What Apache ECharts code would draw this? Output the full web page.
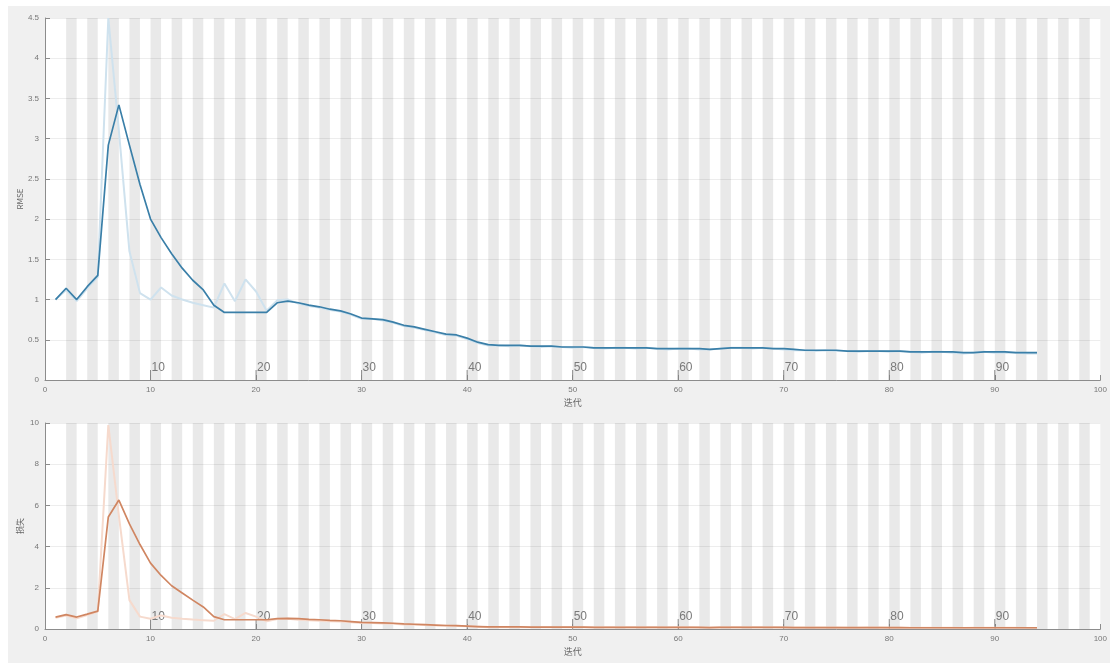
<!DOCTYPE html>
<html>
<head>
<meta charset="utf-8">
<script src="https://cdn.jsdelivr.net/npm/echarts@6/dist/echarts.min.js"></script>
<style>html,body{margin:0;padding:0;background:#fff;}#c{width:1110px;height:663px;}</style>
</head>
<body>
<div id="c"></div>
<script>
// ---- data ----
const iterations = Array.from({length: 94}, (_, i) => i + 1);
const rmseSmooth = [
  1.00,1.14,1.00,1.16,1.30,2.92,3.42,2.92,2.43,2.00,
  1.77,1.57,1.39,1.24,1.12,0.93,0.84,0.84,0.84,0.84,
  0.84,0.96,0.98,0.96,0.93,0.91,0.88,0.86,0.82,0.77,
  0.76,0.75,0.72,0.68,0.66,0.63,0.60,0.57,0.56,0.52,
  0.47,0.44,0.43,0.43,0.43,0.42,0.42,0.42,0.41,0.41,
  0.41,0.40,0.40,0.40,0.40,0.40,0.40,0.39,0.39,0.39,
  0.39,0.39,0.38,0.39,0.40,0.40,0.40,0.40,0.39,0.39,
  0.38,0.37,0.37,0.37,0.37,0.36,0.36,0.36,0.36,0.36,
  0.36,0.35,0.35,0.35,0.35,0.35,0.34,0.34,0.35,0.35,
  0.35,0.34,0.34,0.34];
const rmseRaw = [
  1.00,1.12,0.98,1.14,1.28,4.50,3.10,1.60,1.08,1.00,
  1.15,1.05,1.00,0.96,0.93,0.90,1.20,0.98,1.25,1.10,
  0.86,0.99,1.00,0.95,0.92,0.90,0.87,0.85,0.81,0.76,
  0.76,0.74,0.71,0.67,0.65,0.62,0.59,0.56,0.55,0.51,
  0.46,0.43,0.43,0.42,0.43,0.42,0.41,0.42,0.41,0.40,
  0.41,0.40,0.39,0.40,0.40,0.39,0.40,0.39,0.38,0.39,
  0.39,0.38,0.38,0.39,0.40,0.40,0.39,0.40,0.39,0.38,
  0.37,0.37,0.36,0.37,0.36,0.36,0.35,0.36,0.36,0.35,
  0.36,0.35,0.34,0.35,0.35,0.34,0.33,0.34,0.35,0.34,
  0.34,0.34,0.33,0.33];
const lossSmooth = [
  0.58,0.70,0.58,0.72,0.87,5.44,6.26,5.10,4.10,3.20,
  2.60,2.10,1.75,1.40,1.07,0.60,0.45,0.45,0.45,0.45,
  0.45,0.50,0.52,0.50,0.47,0.45,0.42,0.40,0.36,0.32,
  0.31,0.30,0.28,0.25,0.23,0.21,0.19,0.17,0.16,0.14,
  0.12,0.10,0.10,0.10,0.10,0.09,0.09,0.09,0.09,0.09,
  0.09,0.08,0.08,0.08,0.08,0.08,0.08,0.08,0.08,0.08,
  0.08,0.08,0.07,0.08,0.08,0.08,0.08,0.08,0.08,0.08,
  0.07,0.07,0.07,0.07,0.07,0.07,0.07,0.07,0.07,0.07,
  0.07,0.06,0.06,0.06,0.06,0.06,0.06,0.06,0.06,0.06,
  0.06,0.06,0.06,0.06];
const lossRaw = [
  0.55,0.65,0.52,0.68,0.85,9.90,5.50,1.40,0.60,0.50,
  0.66,0.55,0.50,0.46,0.43,0.40,0.72,0.48,0.78,0.60,
  0.37,0.49,0.50,0.45,0.42,0.40,0.38,0.36,0.33,0.29,
  0.29,0.27,0.25,0.22,0.21,0.19,0.17,0.16,0.15,0.13,
  0.11,0.09,0.09,0.09,0.09,0.09,0.08,0.09,0.08,0.08,
  0.08,0.08,0.08,0.08,0.08,0.08,0.08,0.08,0.07,0.08,
  0.08,0.07,0.07,0.08,0.08,0.08,0.08,0.08,0.08,0.07,
  0.07,0.07,0.07,0.07,0.07,0.06,0.06,0.07,0.07,0.06,
  0.06,0.06,0.06,0.06,0.06,0.06,0.05,0.06,0.06,0.06,
  0.06,0.06,0.05,0.05];
const epochMarks = [10,20,30,40,50,60,70,80,90];
const shadedEpochStarts = Array.from({length: 49}, (_, k) => 2 * (k + 1));

// ---- chart ----
const pairs = (ys) => iterations.map((x, i) => [x, ys[i]]);
const stripeData = shadedEpochStarts.map(s => [{xAxis: s}, {xAxis: s + 1}]);
const labelStyle = {color: '#777', fontSize: 8, fontFamily: 'Liberation Sans, Arial, sans-serif'};
const axLine = {lineStyle: {color: '#8c8c8c', width: 1}};

function xAx(gi) {
  return {
    type: 'value', gridIndex: gi, min: 0, max: 100, interval: 10,
    name: '迭代', nameLocation: 'middle', nameGap: 18, nameMoveOverlap: false,
    nameTextStyle: {color: '#666', fontSize: 9, fontFamily: 'Noto Sans CJK SC'},
    axisLine: axLine, axisTick: {inside: true, length: 5, lineStyle: {color: '#8c8c8c'}},
    axisLabel: Object.assign({margin: 6}, labelStyle),
    splitLine: {show: false}
  };
}
function yAx(gi, max, interval, name) {
  return {
    type: 'value', gridIndex: gi, min: 0, max: max, interval: interval,
    name: name, nameLocation: 'middle', nameGap: 21, nameRotate: 90, nameMoveOverlap: false,
    nameTextStyle: {color: '#666', fontSize: 8, fontFamily: 'Noto Sans CJK SC'},
    axisLine: {show: true, lineStyle: {color: '#8c8c8c', width: 1}},
    axisTick: {show: true, inside: true, length: 5, lineStyle: {color: '#8c8c8c'}},
    axisLabel: Object.assign({margin: 6}, labelStyle),
    splitLine: {show: true, lineStyle: {color: 'rgba(0,0,0,0.07)', width: 1}}
  };
}
function stripes(gi) {
  return {
    type: 'line', xAxisIndex: gi, yAxisIndex: gi, data: [], z: 1, silent: true,
    markArea: {silent: true, itemStyle: {color: 'rgba(0,0,0,0.085)'}, data: stripeData}
  };
}
function epochSeries(gi) {
  return {
    type: 'custom', xAxisIndex: gi, yAxisIndex: gi, z: 3, silent: true,
    data: epochMarks.map(e => [e, 0]),
    renderItem: function (params, api) {
      const p = api.coord([api.value(0), 0]);
      return {
        type: 'group',
        children: [
          {type: 'line', shape: {x1: p[0], y1: p[1], x2: p[0], y2: p[1] - 10},
           style: {stroke: '#888', lineWidth: 1}},
          {type: 'text', x: p[0] + 1, y: p[1] - 6,
           style: {text: String(api.value(0)), fill: '#7a7a7a', fontSize: 12,
                   fontFamily: 'Liberation Sans, Arial, sans-serif',
                   textAlign: 'left', textVerticalAlign: 'bottom'}}
        ]
      };
    }
  };
}
function lineS(gi, ys, color, width, z) {
  return {
    type: 'line', xAxisIndex: gi, yAxisIndex: gi, data: pairs(ys), z: z,
    showSymbol: false, symbol: 'none', smooth: false, silent: true,
    lineStyle: {color: color, width: width}
  };
}

const chart = echarts.init(document.getElementById('c'), null, {renderer: 'canvas'});
chart.setOption({
  backgroundColor: '#ffffff',
  animation: false,
  graphic: [{type: 'rect', left: 8, top: 6, shape: {width: 1102, height: 657}, style: {fill: '#f0f0f0'}, z: -10, silent: true}],
  grid: [
    {left: 45, right: 8, top: 18, height: 362, backgroundColor: '#fff', show: true, borderWidth: 0},
    {left: 45, right: 8, top: 423, height: 206, backgroundColor: '#fff', show: true, borderWidth: 0}
  ],
  xAxis: [xAx(0), xAx(1)],
  yAxis: [yAx(0, 4.5, 0.5, 'RMSE'), yAx(1, 10, 2, '损失')],
  series: [
    stripes(0), stripes(1),
    lineS(0, rmseRaw, '#cfe2ee', 2, 4),
    lineS(0, rmseSmooth, '#3a7fa8', 1.7, 5),
    lineS(1, lossRaw, '#f6dacd', 2, 4),
    lineS(1, lossSmooth, '#d08662', 1.7, 5),
    epochSeries(0), epochSeries(1)
  ]
});
</script>
</body>
</html>
